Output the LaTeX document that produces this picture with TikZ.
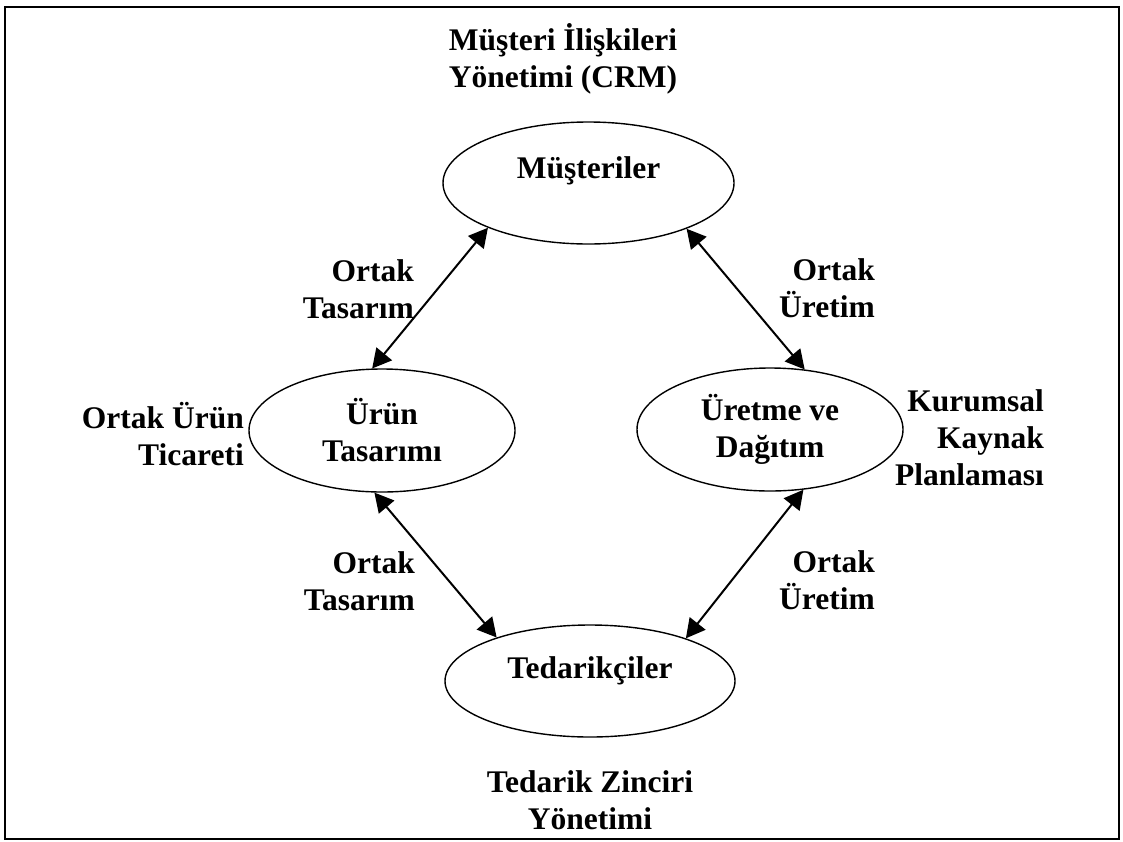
\documentclass[tikz,border=0pt]{standalone}
\usepackage{fontspec}
\setmainfont{Liberation Serif}
\usetikzlibrary{arrows.meta,shapes.geometric}
\begin{document}
\begin{tikzpicture}[x=1pt,y=-1pt,
  every node/.style={font=\fontsize{31.5}{37}\selectfont\bfseries, inner sep=0pt},
  party/.style={ellipse, draw, line width=1.4pt, align=center},
  note/.style={align=right, anchor=east},
  caption/.style={align=center},
  link/.style={{Triangle[length=19pt,width=20pt]}-{Triangle[length=19pt,width=20pt]}, line width=2pt},
  frame/.style={line width=2pt}
]
\useasboundingbox (0,0) rectangle (1123,841);
\draw[frame] (5,7) rectangle (1119,839);

% the four partners of the chain
\node[party, minimum width=291pt, minimum height=122pt, text height=22pt, text depth=31pt]
  (mus) at (588.5,183) {Müşteriler};
\node[party, minimum width=266pt, minimum height=123pt] (urun) at (382,430.5) {Ürün\\Tasarımı};
\node[party, minimum width=266pt, minimum height=123pt] (uret) at (770,429.5) {Üretme ve\\Dağıtım};
\node[party, minimum width=290pt, minimum height=112pt, text height=22pt, text depth=27pt]
  (ted) at (590,681) {Tedarikçiler};

% two-way links between the partners
\draw[link] (mus.204.6) -- (urun.99.4);
\draw[link] (mus.335.9) -- (uret.60.75);
\draw[link] (urun.263.5) -- (ted.155.8);
\draw[link] (uret.299.25) -- (ted.24.7);

% the systems around the chain
\node[caption] (crm) at (563,59) {Müşteri İlişkileri\\Yönetimi (CRM)};
\node[caption] (scm) at (590,800) {Tedarik Zinciri\\Yönetimi};
\node[note] (cpc) at (244,434) {Ortak Ürün\\Ticareti};
\node[note] (erp) at (1044,437.5) {Kurumsal\\Kaynak\\Planlaması};

% labels of the links
\node[note] (ul) at (414,289) {Ortak\\Tasarım};
\node[note] (ur) at (875,288) {Ortak\\Üretim};
\node[note] (ll) at (415,581) {Ortak\\Tasarım};
\node[note] (lr) at (875,580) {Ortak\\Üretim};
\end{tikzpicture}
\end{document}
